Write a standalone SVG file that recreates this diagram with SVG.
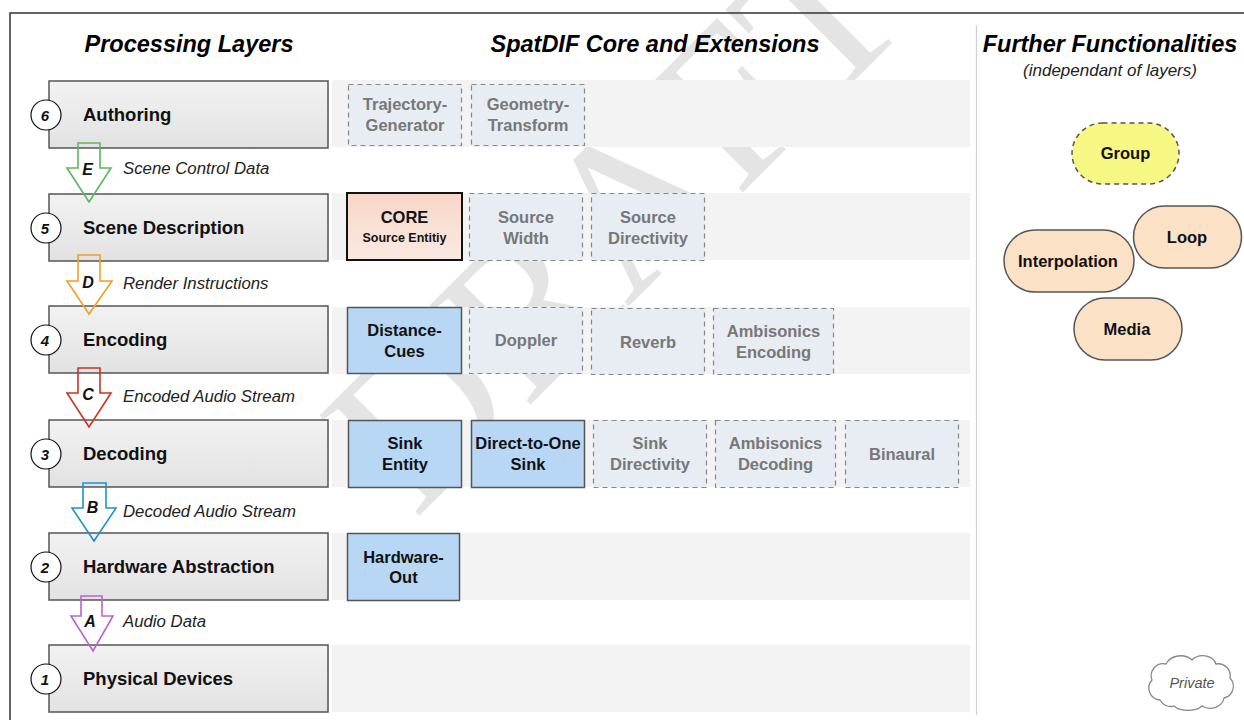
<svg xmlns="http://www.w3.org/2000/svg" width="1244" height="720" viewBox="0 0 1244 720">
<defs>
<linearGradient id="gLayer" x1="0" y1="0" x2="0" y2="1"><stop offset="0" stop-color="#f2f2f2"/><stop offset="1" stop-color="#e2e2e2"/></linearGradient>
<linearGradient id="gCore" x1="0" y1="0" x2="0" y2="1"><stop offset="0" stop-color="#f7d6c8"/><stop offset="1" stop-color="#fbeae2"/></linearGradient>
<style>
text{font-family:"Liberation Sans",Arial,sans-serif}
.hdr{font-size:23.5px;font-weight:bold;font-style:italic;fill:#000;text-anchor:middle}
.sub{font-size:17px;font-style:italic;fill:#222;text-anchor:middle}
.layer{fill:url(#gLayer);stroke:#555;stroke-width:1.5}
.lt{font-size:18.5px;font-weight:bold;fill:#111}
.num{fill:#fff;stroke:#111;stroke-width:1.2}
.nt{font-size:15px;font-weight:bold;font-style:italic;fill:#111;text-anchor:middle}
.row{fill:#f3f3f3}
.ext{fill:#e8ecf3;stroke:#888;stroke-width:1.2;stroke-dasharray:5 4}
.et{font-size:16.5px;font-weight:bold;fill:#777;text-anchor:middle}
.core{fill:#b7d7f4;stroke:#555;stroke-width:1.5}
.ct{font-size:16.5px;font-weight:bold;fill:#111;text-anchor:middle}
.arr{fill:none;stroke-width:1.6}
.al{font-size:16.8px;font-style:italic;fill:#222}
.ak{font-size:16px;font-weight:bold;font-style:italic;fill:#111;text-anchor:middle}
.pill{fill:#fbe2c6;stroke:#555;stroke-width:1.5}
.pt{font-size:16.5px;font-weight:bold;fill:#111;text-anchor:middle}
</style>
</defs>
<rect width="1244" height="720" fill="#fff"/>
<!-- watermark -->
<text x="0" y="0" transform="translate(415,520) rotate(-45)" style="font-family:'Liberation Serif','Times New Roman',serif;font-size:216px;fill:#e4e4e4">DRAFT</text>
<!-- frame -->
<path d="M10,720 V13 H1244" fill="none" stroke="#333" stroke-width="1.5"/>
<line x1="976.5" y1="25" x2="976.5" y2="715" stroke="#cfcfcf" stroke-width="1.2"/>
<!-- headers -->
<text class="hdr" x="189" y="52">Processing Layers</text>
<text class="hdr" x="655" y="52">SpatDIF Core and Extensions</text>
<text class="hdr" x="1110" y="52">Further Functionalities</text>
<text class="sub" x="1110" y="76">(independant of layers)</text>
<!-- rows -->
<g id="rows">
<rect class="row" x="332" y="80" width="638" height="67"/>
<rect class="row" x="332" y="193" width="638" height="67"/>
<rect class="row" x="332" y="307" width="638" height="67"/>
<rect class="row" x="332" y="420" width="638" height="67"/>
<rect class="row" x="332" y="533" width="638" height="67"/>
<rect class="row" x="332" y="645" width="638" height="67"/>
</g>
<!-- layers -->
<g id="layer6"><rect class="layer" x="49" y="81" width="279" height="67"/><circle class="num" cx="46" cy="115" r="15"/><text class="nt" x="45" y="120.5">6</text><text class="lt" x="83" y="120.5">Authoring</text></g>
<g id="layer5"><rect class="layer" x="49" y="194" width="279" height="67"/><circle class="num" cx="46" cy="228" r="15"/><text class="nt" x="45" y="233.5">5</text><text class="lt" x="83" y="233.5">Scene Description</text></g>
<g id="layer4"><rect class="layer" x="49" y="306" width="279" height="67"/><circle class="num" cx="46" cy="340" r="15"/><text class="nt" x="45" y="345.5">4</text><text class="lt" x="83" y="345.5">Encoding</text></g>
<g id="layer3"><rect class="layer" x="49" y="420" width="279" height="67"/><circle class="num" cx="46" cy="454" r="15"/><text class="nt" x="45" y="459.5">3</text><text class="lt" x="83" y="459.5">Decoding</text></g>
<g id="layer2"><rect class="layer" x="49" y="533" width="279" height="67"/><circle class="num" cx="46" cy="567" r="15"/><text class="nt" x="45" y="572.5">2</text><text class="lt" x="83" y="572.5">Hardware Abstraction</text></g>
<g id="layer1"><rect class="layer" x="49" y="645" width="279" height="67"/><circle class="num" cx="46" cy="679" r="15"/><text class="nt" x="45" y="684.5">1</text><text class="lt" x="83" y="684.5">Physical Devices</text></g>
<!-- connectors -->
<g id="connectors">
<polygon class="arr" stroke="#5cb85c" points="78,143 100,143 100,168 111,168 89,202 67,168 78,168"/>
<text class="ak" x="87.5" y="175">E</text>
<text class="al" x="123" y="174">Scene Control Data</text>
<polygon class="arr" stroke="#f0a020" points="78,255 100,255 100,281 112,281 89,314 67,281 78,281"/>
<text class="ak" x="88" y="288">D</text>
<text class="al" x="123" y="289">Render Instructions</text>
<polygon class="arr" stroke="#cc3322" points="78,368 100,368 100,393 111,393 89,427 67,393 78,393"/>
<text class="ak" x="88" y="400">C</text>
<text class="al" x="123" y="402">Encoded Audio Stream</text>
<polygon class="arr" stroke="#1e90d0" points="83,483 106,483 106,508 116,508 94,541 72,508 83,508"/>
<text class="ak" x="92.5" y="513">B</text>
<text class="al" x="123" y="517">Decoded Audio Stream</text>
<polygon class="arr" stroke="#c060d8" points="81,596 102,596 102,616 113,616 93,651 71,616 81,616"/>
<text class="ak" x="90" y="627">A</text>
<text class="al" x="123" y="627">Audio Data</text>
</g>
<!-- row 6 -->
<g id="trajectory"><rect class="ext" x="348.5" y="84.5" width="113" height="61"/><text class="et" x="405" y="110">Trajectory-</text><text class="et" x="405" y="131">Generator</text></g>
<g id="geometry"><rect class="ext" x="471.5" y="84.5" width="113" height="61"/><text class="et" x="528" y="110">Geometry-</text><text class="et" x="528" y="131">Transform</text></g>
<!-- row 5 -->
<g id="coreSource"><rect x="347" y="193" width="115" height="67" fill="url(#gCore)" stroke="#111" stroke-width="2"/><text class="ct" x="404.5" y="223">CORE</text><text x="404.5" y="242" style="font-size:12.5px;font-weight:bold;fill:#111;text-anchor:middle">Source Entitiy</text></g>
<g id="sourceWidth"><rect class="ext" x="469.5" y="193.5" width="113" height="67"/><text class="et" x="526" y="223">Source</text><text class="et" x="526" y="244">Width</text></g>
<g id="sourceDirectivity"><rect class="ext" x="591.5" y="193.5" width="113" height="67"/><text class="et" x="648" y="223">Source</text><text class="et" x="648" y="244">Directivity</text></g>
<!-- row 4 -->
<g id="distanceCues"><rect class="core" x="347.5" y="307.5" width="114" height="66"/><text class="ct" x="404.5" y="336">Distance-</text><text class="ct" x="404.5" y="357">Cues</text></g>
<g id="doppler"><rect class="ext" x="469.5" y="307.5" width="113" height="66"/><text class="et" x="526" y="346">Doppler</text></g>
<g id="reverb"><rect class="ext" x="591.5" y="308.5" width="113" height="66"/><text class="et" x="648" y="348">Reverb</text></g>
<g id="ambisonicsEncoding"><rect class="ext" x="713.5" y="308.5" width="120" height="66"/><text class="et" x="773.5" y="337">Ambisonics</text><text class="et" x="773.5" y="358">Encoding</text></g>
<!-- row 3 -->
<g id="sinkEntity"><rect class="core" x="348.5" y="420.5" width="113" height="67"/><text class="ct" x="405" y="449">Sink</text><text class="ct" x="405" y="470">Entity</text></g>
<g id="directToOne"><rect class="core" x="471.5" y="420.5" width="113" height="67"/><text class="ct" x="528" y="449">Direct-to-One</text><text class="ct" x="528" y="470">Sink</text></g>
<g id="sinkDirectivity"><rect class="ext" x="593.5" y="420.5" width="113" height="67"/><text class="et" x="650" y="449">Sink</text><text class="et" x="650" y="470">Directivity</text></g>
<g id="ambisonicsDecoding"><rect class="ext" x="715.5" y="420.5" width="120" height="67"/><text class="et" x="775.5" y="449">Ambisonics</text><text class="et" x="775.5" y="470">Decoding</text></g>
<g id="binaural"><rect class="ext" x="845.5" y="420.5" width="113" height="67"/><text class="et" x="902" y="460">Binaural</text></g>
<!-- row 2 -->
<g id="hardwareOut"><rect class="core" x="347.5" y="533.5" width="112" height="67"/><text class="ct" x="403.5" y="563">Hardware-</text><text class="ct" x="403.5" y="583">Out</text></g>
<!-- further functionalities -->
<g id="group"><rect x="1072" y="123" width="107" height="61" rx="30.5" fill="#f7f783" stroke="#555" stroke-width="1.5" stroke-dasharray="5 4"/><text class="pt" x="1125.5" y="159">Group</text></g>
<g id="loop"><rect class="pill" x="1133.5" y="206" width="108" height="62" rx="31"/><text class="pt" x="1187" y="243">Loop</text></g>
<g id="interpolation"><rect class="pill" x="1004" y="230" width="130" height="62" rx="31"/><text class="pt" x="1068" y="267">Interpolation</text></g>
<g id="media"><rect class="pill" x="1074" y="298" width="108" height="62" rx="31"/><text class="pt" x="1127" y="335">Media</text></g>
<g id="private"><path d="M1160,700 a12,12 0 0 1 -8,-20 a12,12 0 0 1 14,-16 a16,14 0 0 1 26,-4 a14,12 0 0 1 24,4 a12,12 0 0 1 14,14 a12,12 0 0 1 -6,20 a14,12 0 0 1 -22,8 a18,12 0 0 1 -28,0 a12,12 0 0 1 -14,-6 z" fill="#fff" stroke="#888" stroke-width="1.3"/><text x="1192" y="688" style="font-size:14.5px;font-style:italic;fill:#555;text-anchor:middle">Private</text></g>
</svg>
